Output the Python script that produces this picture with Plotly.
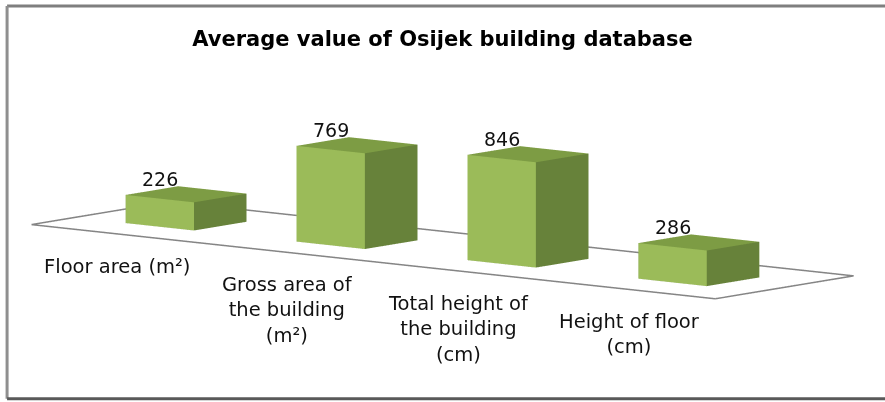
import plotly.graph_objects as go
import math

# ---- data ----
categories = ["Floor area (m²)", "Gross area of<br>the building<br>(m²)",
              "Total height of<br>the building<br>(cm)", "Height of floor<br>(cm)"]
values = [226, 769, 846, 286]
title_text = "Average value of Osijek building database"

# ---- style ----
FRONT = "#9BBB59"
SIDE = "#67823A"
TOP = "#7D9C44"
FONT = "DejaVu Sans"
HALF = 0.2          # half bar width (category units)
DHALF = 0.19        # half bar depth
FLOOR_HALF = 0.5    # half floor depth
ZMAX = 1000
ZOOM = 1.17

fig = go.Figure()

# bars as 3D boxes
for i, v in enumerate(values):
    x0, x1 = i - HALF, i + HALF
    y0, y1 = -DHALF, DHALF
    xs = [x0, x1, x1, x0, x0, x1, x1, x0]
    ys = [y0, y0, y1, y1, y0, y0, y1, y1]
    zs = [0, 0, 0, 0, v, v, v, v]
    faces = [
        ((0, 1, 5), FRONT), ((0, 5, 4), FRONT),
        ((1, 2, 6), SIDE), ((1, 6, 5), SIDE),
        ((4, 5, 6), TOP), ((4, 6, 7), TOP),
        ((0, 3, 7), SIDE), ((0, 7, 4), SIDE),
        ((3, 2, 6), FRONT), ((3, 6, 7), FRONT),
        ((0, 1, 2), SIDE), ((0, 2, 3), SIDE),
    ]
    fig.add_trace(go.Mesh3d(
        x=xs, y=ys, z=zs,
        i=[f[0][0] for f in faces], j=[f[0][1] for f in faces], k=[f[0][2] for f in faces],
        facecolor=[f[1] for f in faces],
        flatshading=True,
        lighting=dict(ambient=1, diffuse=0, specular=0, fresnel=0, roughness=1),
        hoverinfo="skip", showscale=False,
    ))

# floor outline
n = len(values)
fx0, fx1 = -0.5, n - 0.5
fig.add_trace(go.Scatter3d(
    x=[fx0, fx1, fx1, fx0, fx0],
    y=[-FLOOR_HALF, -FLOOR_HALF, FLOOR_HALF, FLOOR_HALF, -FLOOR_HALF],
    z=[0, 0, 0, 0, 0],
    mode="lines", line=dict(color="#858585", width=3),
    hoverinfo="skip", showlegend=False,
))

annotations = []
for i, v in enumerate(values):
    annotations.append(dict(
        x=i, y=-DHALF, z=v, text=str(v), showarrow=False,
        yanchor="bottom", yshift=7, font=dict(family=FONT, size=19, color="#111111"),
    ))
for i, c in enumerate(categories):
    annotations.append(dict(
        x=i, y=-FLOOR_HALF, z=0, text=c, showarrow=False,
        yanchor="top", yshift=-19, font=dict(family=FONT, size=19.5, color="#111111"),
    ))

# camera: azimuth ~39 deg, elevation ~7.7 deg
az = math.radians(39)
el = math.radians(7.7)
dist = 2.54
eye = dict(x=dist * math.sin(az) * math.cos(el),
           y=-dist * math.cos(az) * math.cos(el),
           z=dist * math.sin(el))

axis_style = dict(visible=False, showgrid=False, zeroline=False, showbackground=False,
                  showspikes=False, title="")

fig.update_layout(
    width=885, height=402,
    margin=dict(l=0, r=0, t=0, b=0),
    paper_bgcolor="white",
    showlegend=False,
    title=dict(text="<b>" + title_text + "</b>", x=0.5, xanchor="center",
               y=0.905, yanchor="middle",
               font=dict(family=FONT, size=21, color="black")),
    scene=dict(
        domain=dict(x=[0, 1], y=[0.065, 1]),
        xaxis=dict(range=[fx0, fx1], **axis_style),
        yaxis=dict(range=[-FLOOR_HALF, FLOOR_HALF], **axis_style),
        zaxis=dict(range=[0, ZMAX], **axis_style),
        aspectmode="manual",
        aspectratio=dict(x=4 * ZOOM, y=1 * ZOOM, z=0.571 * ZOOM),
        camera=dict(eye=eye, up=dict(x=0, y=0, z=1),
                    projection=dict(type="orthographic")),
        annotations=annotations,
        dragmode=False,
    ),
    shapes=[
        dict(type="line", xref="paper", yref="paper", x0=0.008, x1=1, y0=0.985, y1=0.985,
             line=dict(color="#7F7F7F", width=3)),
        dict(type="line", xref="paper", yref="paper", x0=0.008, x1=0.008, y0=0.008, y1=0.985,
             line=dict(color="#8F8F8F", width=3)),
        dict(type="line", xref="paper", yref="paper", x0=0.008, x1=1, y0=0.008, y1=0.008,
             line=dict(color="#595959", width=3)),
    ],
)

fig.write_html("out.html", config=dict(displayModeBar=False),
               post_script="document.body.style.margin='0';")
